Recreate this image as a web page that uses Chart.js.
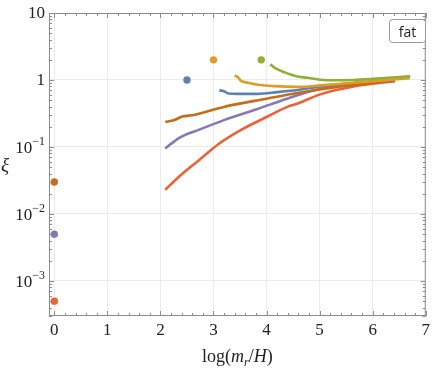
<!DOCTYPE html>
<html>
<head>
<meta charset="utf-8">
<script src="https://cdn.jsdelivr.net/npm/chart.js@4"></script>
<style>
  html, body { margin: 0; padding: 0; background: #fff; }
  #wrap { width: 434px; height: 369px; }
</style>
</head>
<body>
<div id="wrap"><canvas id="xiChart" width="434" height="369"></canvas></div>
<script>
// series colours (Mathematica default palette)
const colors = {
    blue: '#5E81B5', yellow: '#E19C24', green: '#8FB032',
    red: '#EB6235', purple: '#8778B3', brown: '#C56E1A'
};

// curves
const greenX  = [4.07, 4.18, 4.33, 4.58, 4.77, 5.01, 5.33, 5.64, 6.01, 6.45, 6.71];
const greenY  = [1.71, 1.48, 1.31, 1.13, 1.08, 1.01, 0.99, 1.00, 1.04, 1.10, 1.14];
const yellowX = [3.40, 3.46, 3.52, 3.65, 3.84, 4.15, 4.58, 5.01, 5.64, 6.70];
const yellowY = [1.17, 1.10, 0.97, 0.91, 0.85, 0.81, 0.79, 0.83, 0.91, 1.06];
const brownX  = [2.09, 2.25, 2.41, 2.63, 3.21, 4.02, 4.58, 5.30, 6.42];
const brownY  = [0.237, 0.25, 0.284, 0.30, 0.40, 0.53, 0.64, 0.78, 0.99];
const blueX   = [3.11, 3.20, 3.28, 3.46, 3.83, 4.21, 4.58, 5.01, 5.64, 6.42];
const blueY   = [0.70, 0.68, 0.63, 0.62, 0.62, 0.66, 0.71, 0.80, 0.90, 0.99];
const purpleX = [2.09, 2.35, 2.72, 3.21, 3.83, 4.40, 5.01, 5.64, 6.42];
const purpleY = [0.095, 0.136, 0.18, 0.254, 0.37, 0.53, 0.74, 0.87, 0.97];
const redX    = [2.09, 2.35, 2.72, 3.09, 3.52, 4.02, 4.40, 4.60, 5.01, 5.64, 6.42];
const redY    = [0.023, 0.036, 0.063, 0.11, 0.18, 0.285, 0.40, 0.45, 0.61, 0.80, 0.96];

// isolated dots
const dotNames = ['green', 'yellow', 'blue', 'brown', 'purple', 'red'];
const dotX = [3.9, 3.0, 2.5, 0, 0, 0];
const dotY = [2, 2, 1, 0.03, 0.005, 0.0005];

const xTicks = [0, 1, 2, 3, 4, 5, 6, 7];
const yDecades = [-3, -2, -1, 0, 1];
const legendText = 'fat';

function pts(xs, ys) {
    return xs.map((x, i) => ({ x: x, y: ys[i] }));
}

const lines = [
    ['green', greenX, greenY], ['yellow', yellowX, yellowY], ['brown', brownX, brownY],
    ['blue', blueX, blueY], ['purple', purpleX, purpleY], ['red', redX, redY]
];

const datasets = [];
dotNames.forEach((n, i) => {
    datasets.push({
        data: [{ x: dotX[i], y: dotY[i] }],
        showLine: false,
        pointRadius: 3.7,
        pointBackgroundColor: colors[n],
        pointBorderWidth: 0
    });
});
lines.forEach(l => {
    datasets.push({
        data: pts(l[1], l[2]),
        showLine: true,
        borderColor: colors[l[0]],
        borderWidth: 2.6,
        pointRadius: 0,
        cubicInterpolationMode: 'monotone'
    });
});

const SERIF = '"Liberation Serif", "DejaVu Serif", serif';

// frame, inward ticks, y labels, axis titles, legend box
const decorations = {
    id: 'decorations',
    afterDraw(chart) {
        const ctx = chart.ctx;
        const a = chart.chartArea;
        const xs = chart.scales.x, ys = chart.scales.y;
        ctx.save();
        ctx.strokeStyle = '#8c8c8c';
        ctx.lineWidth = 1;
        ctx.strokeRect(a.left + 0.5, a.top + 0.5, a.right - a.left - 1, a.bottom - a.top - 1);

        ctx.beginPath();
        // x ticks (bottom and top)
        for (let v = 0; v <= 7.0001; v += 0.2) {
            const major = Math.abs(v - Math.round(v)) < 1e-6;
            const len = major ? 5 : 3;
            const px = Math.round(xs.getPixelForValue(v)) + 0.5;
            ctx.moveTo(px, a.bottom); ctx.lineTo(px, a.bottom - len);
            ctx.moveTo(px, a.top); ctx.lineTo(px, a.top + len);
        }
        // y ticks (left and right)
        for (let d = -4; d <= 1; d++) {
            for (let m = 1; m <= 9; m++) {
                const v = m * Math.pow(10, d);
                if (v < ys.min || v > ys.max) continue;
                const len = m === 1 ? 5 : 3;
                const py = Math.round(ys.getPixelForValue(v)) + 0.5;
                ctx.moveTo(a.left, py); ctx.lineTo(a.left + len, py);
                ctx.moveTo(a.right, py); ctx.lineTo(a.right - len, py);
            }
        }
        ctx.stroke();

        // y tick labels
        ctx.fillStyle = '#222';
        ctx.textBaseline = 'middle';
        yDecades.forEach(d => {
            const py = ys.getPixelForValue(Math.pow(10, d));
            const right = a.left - 4;
            ctx.textAlign = 'right';
            if (d === 0 || d === 1) {
                ctx.font = '17px ' + SERIF;
                ctx.fillText(d === 0 ? '1' : '10', right, py + 1);
            } else {
                ctx.font = '12px ' + SERIF;
                const sup = '\u2212' + (-d);
                const sw = ctx.measureText(sup).width;
                ctx.fillText(sup, right, py - 5);
                ctx.font = '17px ' + SERIF;
                ctx.fillText('10', right - sw, py + 2);
            }
        });

        // y title
        ctx.font = 'italic 19px ' + SERIF;
        ctx.textAlign = 'left';
        ctx.textBaseline = 'alphabetic';
        ctx.fillText('\u03BE', 1, 171);

        // x title: log(m_r/H)
        const parts = [
            ['log(', '18px ' + SERIF, 0],
            ['m', 'italic 18px ' + SERIF, 0],
            ['r', 'italic 12px ' + SERIF, 4],
            ['/', '18px ' + SERIF, 0],
            ['H', 'italic 18px ' + SERIF, 0],
            [')', '18px ' + SERIF, 0]
        ];
        let total = 0;
        parts.forEach(p => { ctx.font = p[1]; total += ctx.measureText(p[0]).width; });
        let cx = (a.left + a.right) / 2 - total / 2;
        parts.forEach(p => {
            ctx.font = p[1];
            ctx.fillText(p[0], cx, 362 + p[2]);
            cx += ctx.measureText(p[0]).width;
        });

        // legend box
        const bx = 389.5, by = 19.5, bw = 36, bh = 23, r = 3;
        ctx.beginPath();
        ctx.moveTo(bx + r, by);
        ctx.arcTo(bx + bw, by, bx + bw, by + bh, r);
        ctx.arcTo(bx + bw, by + bh, bx, by + bh, r);
        ctx.arcTo(bx, by + bh, bx, by, r);
        ctx.arcTo(bx, by, bx + bw, by, r);
        ctx.closePath();
        ctx.fillStyle = '#fff';
        ctx.fill();
        ctx.strokeStyle = '#999';
        ctx.stroke();
        ctx.fillStyle = '#222';
        ctx.font = '14px "Open Sans", sans-serif';
        ctx.textAlign = 'center';
        ctx.textBaseline = 'alphabetic';
        ctx.fillText(legendText, bx + bw / 2, 36.5);
        ctx.restore();
    }
};

new Chart(document.getElementById('xiChart').getContext('2d'), {
    type: 'scatter',
    data: { datasets: datasets },
    options: {
        responsive: false,
        animation: false,
        layout: { padding: { top: 13, right: 5, left: 0, bottom: 0 } },
        plugins: { legend: { display: false }, tooltip: { enabled: false } },
        scales: {
            x: {
                type: 'linear',
                min: -0.1,
                max: 7,
                afterBuildTicks: s => { s.ticks = xTicks.map(v => ({ value: v })); },
                afterFit: s => { s.height = 53; },
                grid: { color: '#ebebeb', drawTicks: false },
                border: { display: false },
                ticks: {
                    padding: 4,
                    color: '#222',
                    maxRotation: 0,
                    autoSkip: false,
                    font: { family: SERIF, size: 17 }
                }
            },
            y: {
                type: 'logarithmic',
                min: 3.2e-4,
                max: 10,
                afterBuildTicks: s => { s.ticks = yDecades.map(d => ({ value: Math.pow(10, d) })); },
                afterFit: s => { s.width = 49; },
                grid: { color: '#ebebeb', drawTicks: false },
                border: { display: false },
                ticks: { display: false }
            }
        }
    },
    plugins: [decorations]
});
</script>
</body>
</html>
